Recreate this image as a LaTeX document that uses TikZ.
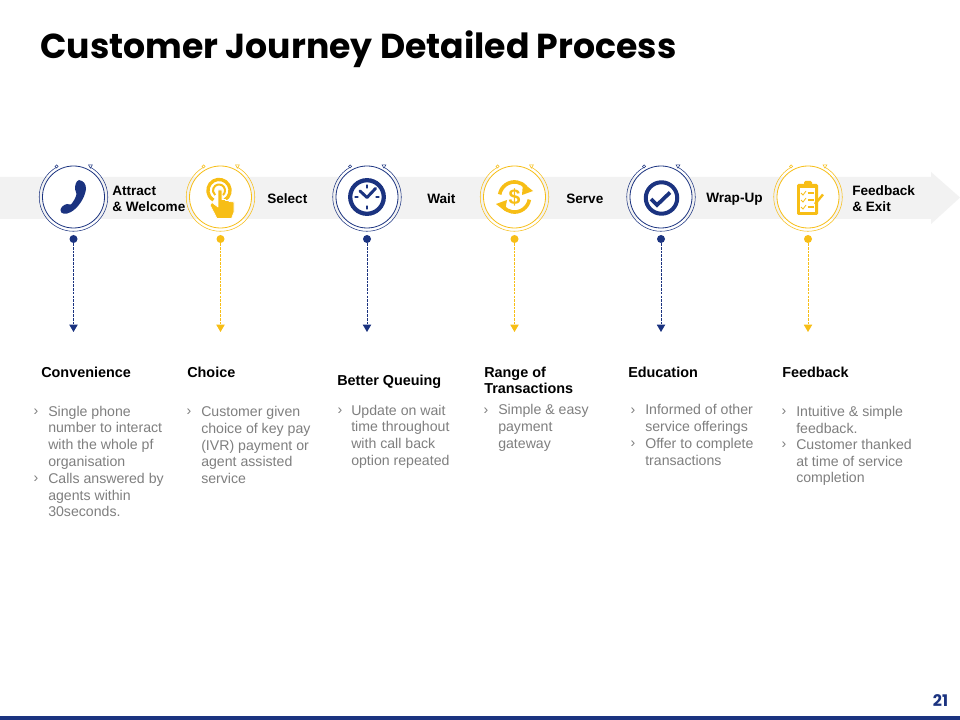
\documentclass[tikz,border=0pt]{standalone}
\usepackage{fontspec}
\setmainfont{Liberation Sans}
\newfontfamily\titlefont{Poppins}
\usetikzlibrary{arrows.meta}
\definecolor{navy}{HTML}{1B3380}
\definecolor{gold}{HTML}{F7BE16}
\definecolor{band}{HTML}{F2F2F2}
\definecolor{bodygrey}{HTML}{7F7F7F}
\tikzset{
  x=0.75pt,y=-0.75pt,
  ringnode/.style={circle,draw=#1,line width=0.6pt,fill=white,minimum size=46.5pt,inner sep=0pt},
  hub/.style={circle,fill=#1,minimum size=6pt,inner sep=0pt},
  link/.style={draw=#1,line width=0.7pt,dash pattern=on 2pt off 0.8pt,-{Triangle[length=5.5pt,width=6.2pt,fill=#1]}},
  steplabel/.style={font=\fontsize{10.2pt}{12pt}\selectfont\bfseries,text=black,inner sep=0pt,anchor=west,align=left},
  headlabel/.style={font=\fontsize{10.8pt}{12pt}\selectfont\bfseries,text=black,inner sep=0pt,anchor=west,align=left},
  bodytext/.style={font=\fontsize{10.6pt}{12.55pt}\selectfont,text=bodygrey,inner sep=0pt,anchor=west,align=left},
  chevron/.style={font=\fontsize{10.6pt}{12.55pt}\selectfont,text=bodygrey,inner sep=0pt},
}
\newcommand{\outerarc}[2]{%
  \draw[#2,line width=0.4pt] (#1.center) ++(61:25.7pt) arc[start angle=61,end angle=-241,radius=25.7pt];
  \draw[#2,line width=0.4pt,fill=white] (#1.center) ++(119:26.2pt) circle[radius=1.2pt];
  \path (#1.center) ++(61:26.2pt) coordinate (mk);
  \draw[#2,line width=0.4pt,fill=white] (mk) ++(-1.4pt,1.1pt) -- ++(2.8pt,0pt) -- ++(-1.4pt,-2.4pt) -- cycle;
}
\begin{document}
\begin{tikzpicture}
\useasboundingbox (0,0) rectangle (960,720);
\fill[white] (0,0) rectangle (960,720);
% title
\node[font=\titlefont\bfseries\fontsize{26pt}{30pt}\selectfont,text=black,inner sep=0pt,anchor=west] (title) at (40,49) {Customer Journey Detailed Process};
% band arrow
\fill[band] (0,177) -- (931,177) -- (931,172) -- (960,197.5) -- (931,224) -- (931,219) -- (0,219) -- cycle;
% rings
\node[ringnode=navy] (r1) at (73.5,197) {};
\node[ringnode=gold] (r2) at (220.5,197) {};
\node[ringnode=navy] (r3) at (367,197) {};
\node[ringnode=gold] (r4) at (514.5,197) {};
\node[ringnode=navy] (r5) at (661,197) {};
\node[ringnode=gold] (r6) at (808,197) {};
\outerarc{r1}{navy}
\outerarc{r2}{gold}
\outerarc{r3}{navy}
\outerarc{r4}{gold}
\outerarc{r5}{navy}
\outerarc{r6}{gold}
% phone icon
\fill[navy] (79,180) .. controls (84,181) and (86,184) .. (86,189)
  .. controls (85,198) and (78,208) .. (71,212)
  .. controls (66,215) and (60,214) .. (60.5,210)
  .. controls (60.5,207.5) and (64,204.5) .. (67,204)
  .. controls (69,204) and (70,205) .. (71,204.5)
  .. controls (74,201) and (76,197) .. (76.5,194)
  .. controls (76,192) and (75,191) .. (75,189)
  .. controls (75,185) and (76,181) .. (79,180) -- cycle;
% touch icon
\coordinate (tc) at (219,190.5);
\draw[gold,line width=2.5pt] (tc) ++(-60:8.3pt) arc[start angle=-60,end angle=240,radius=8.3pt];
\draw[gold,line width=1.5pt] (tc) ++(-50:4.5pt) arc[start angle=-50,end angle=230,radius=4.5pt];
\filldraw[gold,draw=white,line width=0.5pt,line join=round] (218,190) -- (222,190) -- (222,199.5) -- (225.5,199.5) -- (225.5,200.5) -- (229,200.5) -- (229,201.5) -- (234,202) -- (234,212) -- (231.5,218.5) -- (217,218.5) -- (210,205) -- (212,202.5) -- (218,207) -- cycle;
% clock icon
\draw[navy,line width=3.2pt] (r3.center) circle[radius=12.6pt];
\draw[navy,line width=2.2pt,line cap=round,line join=round] (360,191) -- (367,197.5) -- (375.5,188.5);
\draw[navy,line width=2.2pt,line cap=round] (367,185.5) -- (367,187.5) (367,206.5) -- (367,208.5) (355.5,197) -- (357.5,197) (376.5,197) -- (378.5,197);
% dollar icon
\draw[gold,line width=2.7pt] (r4.center) ++(170:11.3pt) arc[start angle=170,end angle=40,radius=11.3pt];
\draw[gold,line width=2.7pt] (r4.center) ++(-10:11.3pt) arc[start angle=-10,end angle=-140,radius=11.3pt];
\fill[gold] (533,191) -- (523,183) -- (522,195) -- cycle;
\fill[gold] (496,204) -- (507,200) -- (505,211) -- cycle;
\node[font=\fontsize{16pt}{18pt}\selectfont\bfseries,text=gold,inner sep=0pt] (dollar) at (514.5,197.5) {\$};
% check icon
\draw[navy,line width=3pt] (661.5,198) circle[radius=11.8pt];
\draw[navy,line width=2.8pt] (651,199) -- (657,205) -- (670,192.5);
% clipboard icon
\fill[gold,rounded corners=1pt] (797,184) rectangle (818,215);
\fill[gold,rounded corners=1pt] (804,181) rectangle (812,187);
\fill[white] (800,188) rectangle (815,212);
\draw[gold,line width=0.6pt] (801,193) -- (803,195) -- (806,191);
\draw[gold,line width=0.6pt] (801,200) -- (803,202) -- (806,198);
\draw[gold,line width=0.6pt] (801,207) -- (803,209) -- (806,205);
\draw[gold,line width=0.8pt] (807.5,193) -- (814,193) (807.5,200) -- (814,200);
\draw[gold,line width=1.6pt] (807.5,207) -- (814,207);
\draw[gold,line width=1.8pt] (815,204) -- (823,194.5);
% step labels
\node[steplabel] (s1) at (112,199) {Attract\\\& Welcome};
\node[steplabel] (s2) at (267,199) {Select};
\node[steplabel] (s3) at (427,199) {Wait};
\node[steplabel] (s4) at (566,199) {Serve};
\node[steplabel] (s5) at (706,199) {Wrap-Up};
\node[steplabel] (s6) at (852,199) {Feedback\\\& Exit};
% hubs and connectors
\node[hub=navy] (h1) at (73.5,239) {};
\node[hub=gold] (h2) at (220.5,239) {};
\node[hub=navy] (h3) at (367,239) {};
\node[hub=gold] (h4) at (514.5,239) {};
\node[hub=navy] (h5) at (661,239) {};
\node[hub=gold] (h6) at (808,239) {};
\coordinate (e1) at (73.5,332);
\coordinate (e2) at (220.5,332);
\coordinate (e3) at (367,332);
\coordinate (e4) at (514.5,332);
\coordinate (e5) at (661,332);
\coordinate (e6) at (808,332);
\draw[link=navy] (h1) -- (e1);
\draw[link=gold] (h2) -- (e2);
\draw[link=navy] (h3) -- (e3);
\draw[link=gold] (h4) -- (e4);
\draw[link=navy] (h5) -- (e5);
\draw[link=gold] (h6) -- (e6);
% headings
\node[headlabel] (t1) at (41,372) {Convenience};
\node[headlabel] (t2) at (187,372) {Choice};
\node[headlabel] (t3) at (337,382) {Better Queuing};
\node[headlabel] (t4) at (484,380) {Range of\\Transactions};
\node[headlabel] (t5) at (628,372) {Education};
\node[headlabel] (t6) at (782,372) {Feedback};
% bullets
\node[chevron] (c1a) at (36,412) {›};
\node[bodytext] (b1a) at (48,437.5) {Single phone\\number to interact\\with the whole pf\\organisation};
\node[chevron] (c1b) at (36,479) {›};
\node[bodytext] (b1b) at (48,495) {Calls answered by\\agents within\\30seconds.};
\node[chevron] (c2a) at (189,412) {›};
\node[bodytext] (b2a) at (201,445) {Customer given\\choice of key pay\\(IVR) payment or\\agent assisted\\service};
\node[chevron] (c3a) at (340,411) {›};
\node[bodytext] (b3a) at (351,436.5) {Update on wait\\time throughout\\with call back\\option repeated};
\node[chevron] (c4a) at (486,411) {›};
\node[bodytext] (b4a) at (498,428) {Simple \& easy\\payment\\gateway};
\node[chevron] (c5a) at (633,411) {›};
\node[bodytext] (b5a) at (645,419.5) {Informed of other\\service offerings};
\node[chevron] (c5b) at (633,444) {›};
\node[bodytext] (b5b) at (645,452) {Offer to complete\\transactions};
\node[chevron] (c6a) at (784,412) {›};
\node[bodytext] (b6a) at (796,420) {Intuitive \& simple\\feedback.};
\node[chevron] (c6b) at (784,445) {›};
\node[bodytext] (b6b) at (796,462.5) {Customer thanked\\at time of service\\completion};
% footer
\fill[navy] (0,716) rectangle (960,720);
\node[font=\titlefont\bfseries\fontsize{12pt}{13pt}\selectfont,text=navy,inner sep=0pt] (pageno) at (940.5,701) {21};
\end{tikzpicture}
\end{document}
